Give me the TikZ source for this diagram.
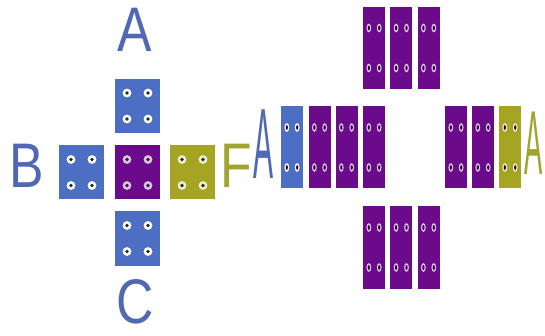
\documentclass[tikz,border=0pt]{standalone}
\usepackage{fontspec}
\setmainfont{Liberation Sans}
\usetikzlibrary{positioning}

\definecolor{blk}{RGB}{76,111,196}
\definecolor{prp}{RGB}{108,10,140}
\definecolor{olv}{RGB}{165,165,35}
\definecolor{lblue}{RGB}{80,105,178}
\definecolor{lolive}{RGB}{160,165,50}

\tikzset{
  cube/.style={fill=#1, minimum width=45, minimum height=54, inner sep=0},
  stick/.style={fill=#1, minimum width=22, minimum height=82, inner sep=0},
  letter/.style={text=#1, inner sep=0, font=\fontsize{63}{63}\selectfont},
}

% four holes on a square block
\newcommand{\cubeholes}[2]{%
  \foreach \sx in {-1,1} \foreach \sy in {-1,1} {
    \fill[#2] ([shift={(\sx*10.5,\sy*13)}]#1.center) circle (4.4);
    \fill[black!85] ([shift={(\sx*10.5,\sy*13)}]#1.center) circle (1.9);
  }}
% four holes on a narrow block
\newcommand{\stickholes}[2]{%
  \foreach \sx in {-1,1} \foreach \sy in {-1,1} {
    \fill[#2] ([shift={(\sx*5.2,\sy*20)}]#1.center) ellipse (2.4 and 4.4);
    \fill[black!60!prp] ([shift={(\sx*5.2,\sy*20)}]#1.center) ellipse (1.1 and 2.4);
  }}

\begin{document}
\begin{tikzpicture}[x=1pt,y=-1pt]
  \useasboundingbox (0,0) rectangle (545,336);
  % left: the plus of cubes
  \node[cube=prp] (mid) at (137.5,172.5) {};
  \node[cube=blk] (top) at (137.5,106) {};
  \node[cube=blk] (bot) at (137.5,238.5) {};
  \node[cube=blk] (lft) at (81.5,172.5) {};
  \node[cube=olv] (rgt) at (192.5,172.5) {};
  \cubeholes{mid}{prp!25!white}
  \cubeholes{top}{white}
  \cubeholes{bot}{white}
  \cubeholes{lft}{white}
  \cubeholes{rgt}{olv!20!white}
  \node[letter=lblue] (la) at (135,30) {\scalebox{0.82}[1]{A}};
  \node[letter=lblue] (lb) at (27,166) {\scalebox{0.82}[1]{B}};
  \node[letter=lolive] (lf) at (236,166) {\scalebox{0.82}[1]{F}};
  \node[letter=lblue] (lc) at (135,302) {\scalebox{0.82}[1]{C}};

  % right: the unrolled sticks
  \foreach \i/\x in {1/374,2/401.3,3/428.6} {
    \node[stick=prp] (up\i) at (\x,48) {};
    \node[stick=prp] (dn\i) at (\x,247.5) {};
    \stickholes{up\i}{prp!25!white}
    \stickholes{dn\i}{prp!25!white}
  }
  \node[stick=blk] (row0) at (292,147.5) {};
  \stickholes{row0}{white}
  \foreach \i/\x in {1/319.5,2/346.5,3/374,4/456,5/483} {
    \node[stick=prp] (row\i) at (\x,147.5) {};
    \stickholes{row\i}{prp!25!white}
  }
  \node[stick=olv] (row6) at (510,147.5) {};
  \stickholes{row6}{olv!20!white}
  \node[letter=lblue, font=\fontsize{100}{100}\selectfont] (ra) at (263,144) {\scalebox{0.3}[1]{A}};
  \node[letter=lolive, font=\fontsize{91}{91}\selectfont] (rb) at (534,143) {\scalebox{0.3}[1]{A}};
\end{tikzpicture}
\end{document}
